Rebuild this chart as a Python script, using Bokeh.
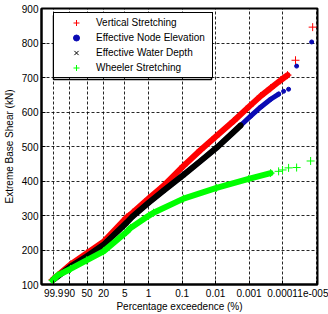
import numpy as np
from bokeh.plotting import figure
from bokeh.models import (FixedTicker, Legend, LegendItem, Range1d,
                          CustomJSTickFormatter, BoxAnnotation)
from bokeh.embed import file_html
from bokeh.resources import INLINE

# ---- axis ticks (x axis is Gumbel probability paper, exceedance in %) ----
tick_pct = [99.9, 90, 50, 20, 5, 1, 0.1, 0.01, 0.001, 0.0001, 0.00001]
tick_labels = ["99.9", "90", "50", "20", "5", "1", "0.1", "0.01", "0.001",
               "0.0001", "1e-005"]
y_ticks = [100, 200, 300, 400, 500, 600, 700, 800, 900]

# ---- series (exceedance %, extreme base shear kN) ----
vert_pct = [99.94, 88.5, 51.3, 20.0, 4.48, 2.99, 1.0, 0.359, 0.0906, 0.0281,
            0.01, 0.0029, 0.000966, 0.000453, 0.000227, 0.000114, 0.000071,
            0.000041, 0.0000126]
vert_shear = [114, 158, 190, 224, 294, 308, 349, 386, 444, 490, 528, 574, 617,
              646, 669, 692, 707, 750, 846]

node_pct = [99.905, 88.5, 51.3, 20.0, 4.48, 2.99, 1.0, 0.359, 0.0906, 0.0281,
            0.00873, 0.0029, 0.0009, 0.000453, 0.000227, 0.000131, 0.000093,
            0.000066, 0.000038, 0.0000135]
node_shear = [114, 152, 181, 215, 279, 297, 337, 372, 418, 458, 499, 542, 588,
              614, 637, 652, 660, 666, 733, 803]

depth_pct = [99.905, 88.5, 51.3, 20.0, 4.48, 2.99, 1.0, 0.359, 0.0906, 0.0281,
             0.00873, 0.0029, 0.0018]
depth_shear = [114, 152, 181, 215, 279, 297, 337, 372, 418, 458, 499, 542, 561]

wheel_pct = [99.94, 99.5, 88.5, 51.3, 20.0, 4.48, 3.42, 1.0, 0.713, 0.0906,
             0.00935, 0.00103, 0.000227, 0.000131, 0.0001, 0.000066, 0.000038,
             0.0000145]
wheel_shear = [112, 126, 145, 170, 196, 252, 264, 299, 308, 349, 380, 406, 423,
               428, 432, 438, 439, 458]

# number of leading points that form the dense band of each series
N_VERT, N_NODE, N_DEPTH, N_WHEEL = 17, 16, 13, 13


def gumbel(pct):
    """Gumbel reduced variate of the non-exceedance probability."""
    p = np.asarray(pct, dtype=float) / 100.0
    return -np.log(-np.log1p(-p))


FONT = "Liberation Sans"
RED, BLUE, BLACK, GREEN = "#ff0000", "#0a0ab4", "#000000", "#00ff00"

p = figure(width=328, height=314, output_backend="svg", toolbar_location=None,
           x_range=Range1d(-2.767, 16.22), y_range=Range1d(100, 900),
           min_border_left=41, min_border_right=11, min_border_top=8,
           min_border_bottom=29)

p.background_fill_color = "white"
p.outline_line_color = "black"
p.outline_line_width = 2

xt = [float(v) for v in gumbel(tick_pct)]
p.xaxis.ticker = FixedTicker(ticks=xt)
p.xaxis.formatter = CustomJSTickFormatter(args=dict(labels=tick_labels),
                                          code="return labels[index];")
p.yaxis.ticker = FixedTicker(ticks=y_ticks)

for ax in (p.xaxis, p.yaxis):
    ax.axis_line_width = 2
    ax.axis_line_color = "black"
    ax.major_tick_in = 4
    ax.major_tick_out = 0
    ax.major_tick_line_color = "black"
    ax.minor_tick_line_color = None
    ax.major_label_text_font = FONT
    ax.major_label_text_font_size = "10px"
    ax.major_label_text_color = "black"
    ax.axis_label_text_font = FONT
    ax.axis_label_text_font_size = "10px"
    ax.axis_label_text_font_style = "normal"
    ax.axis_label_text_color = "black"

p.xaxis.axis_label = "Percentage exceedence (%)"
p.yaxis.axis_label = "Extreme Base Shear (kN)"
p.xaxis.major_label_standoff = 4
p.xaxis.axis_label_standoff = 1
p.yaxis.major_label_standoff = 3
p.yaxis.axis_label_standoff = 4

for g in (p.xgrid, p.ygrid):
    g.grid_line_color = "black"
    g.grid_line_alpha = 0.85
    g.grid_line_dash = "3 2"
    g.grid_line_width = 1

series = [
    (vert_pct, vert_shear, N_VERT, RED, "cross", 8, 6),
    (node_pct, node_shear, N_NODE, BLUE, "circle", 4, 5),
    (depth_pct, depth_shear, N_DEPTH, BLACK, "x", 5, 6),
    (wheel_pct, wheel_shear, N_WHEEL, GREEN, "cross", 8, 6),
]
names = ["Vertical Stretching", "Effective Node Elevation",
         "Effective Water Depth", "Wheeler Stretching"]

marker_renderers = []
for pct, shear, nb, col, mk, sz, lw in series:
    x = gumbel(pct)
    p.line(x[:nb], shear[:nb], line_color=col, line_width=lw,
           line_join="round", line_cap="round")
    r = p.scatter(x, shear, marker=mk, size=sz, line_color=col,
                  fill_color=col, line_width=1)
    marker_renderers.append(r)

legend = Legend(items=[LegendItem(label=n, renderers=[r])
                       for n, r in zip(names, marker_renderers)],
                location=(12, 206))
legend.padding = 2
legend.spacing = 0
legend.label_height = 15
legend.glyph_height = 15
legend.glyph_width = 40
legend.label_standoff = 0
legend.label_width = 114
legend.label_text_font = FONT
legend.label_text_font_size = "10px"
legend.label_text_color = "black"
legend.border_line_color = "black"
legend.border_line_alpha = 1.0
legend.border_line_width = 1.5
legend.background_fill_color = "white"
legend.background_fill_alpha = 1
legend.margin = 0
p.add_layout(legend, "center")

# frame drawn around the legend box (canvas pixel units)
p.add_layout(BoxAnnotation(left=53, right=211, top=15, bottom=79,
                           left_units="canvas", right_units="canvas",
                           top_units="canvas", bottom_units="canvas",
                           fill_alpha=0, line_color="black", line_width=1.5,
                           line_alpha=1, level="overlay"))

open("out.html", "w").write(file_html(p, INLINE))
